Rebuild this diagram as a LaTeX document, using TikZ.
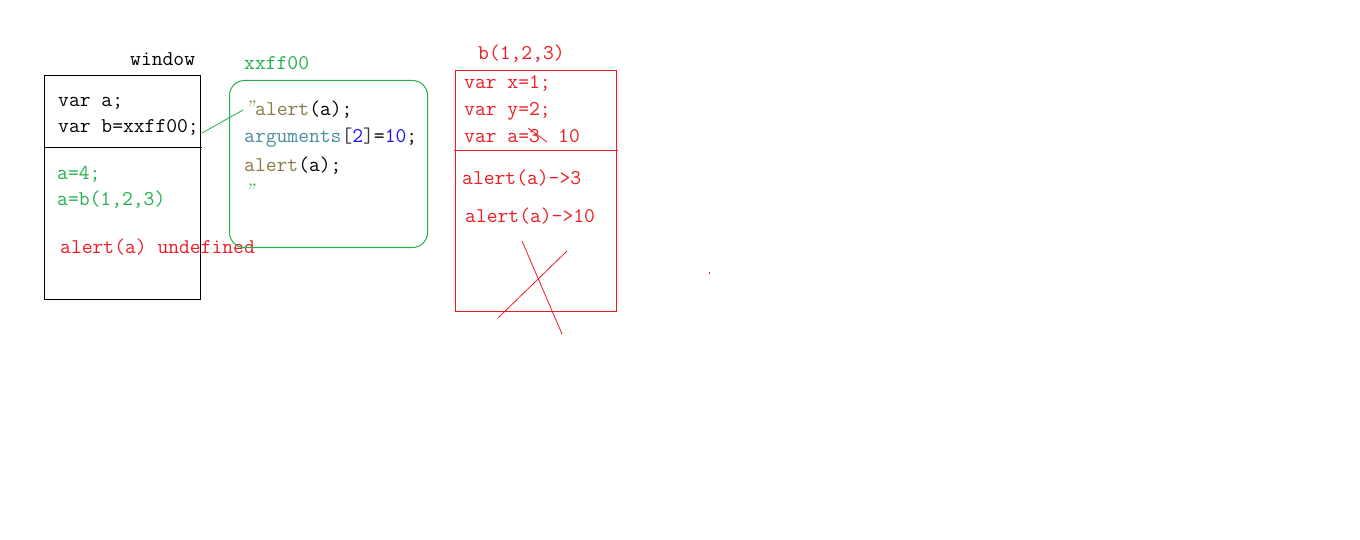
\documentclass[tikz,border=0pt]{standalone}
\usepackage{fontspec}
\definecolor{pgreen}{RGB}{34,177,76}
\definecolor{pred}{RGB}{237,28,36}
\definecolor{olive}{RGB}{140,122,70}
\definecolor{steel}{RGB}{72,140,160}
\definecolor{pblue}{RGB}{20,20,255}
\definecolor{dgray}{RGB}{50,60,70}
\newcommand{\slq}{\makebox[11pt][l]{\rmfamily\itshape ”}}
\tikzset{
  txt/.style={anchor=base west,inner sep=0pt,font=\ttfamily\fontsize{21}{26}\selectfont},
  thin/.style={line width=1pt},
}
\begin{document}
\begin{tikzpicture}[x=1pt,y=-1pt]
\useasboundingbox[fill=white] (0,0) rectangle (1360,540);
% window box
\draw[thin] (44.5,75.5) rectangle (200.5,299.5);
\draw[thin] (44,147.5) -- (202,147.5);
\node[txt] (wlabel) at (130,66) {window};
\node[txt] (va) at (58,107) {var a;};
\node[txt] (vb) at (58,133) {var b=xxff00;};
\node[txt,text=pgreen] (a4) at (57,180) {a=4;};
\node[txt,text=pgreen] (ab) at (57,206) {a=b(1,2,3)};
\node[txt,text=pred] (und) at (60,253) {alert(a) undefined};
% green function object
\draw[thin,pgreen,rounded corners=15pt] (229.5,80.5) rectangle (427.5,247.5);
\node[txt,text=pgreen] (xx) at (244,70) {xxff00};
\node[txt] (g1) at (244,115.5) {\textcolor{olive}{\slq alert}(a);};
\node[txt] (g2) at (244,143) {\textcolor{steel}{arguments}\textcolor{dgray}{[}\textcolor{pblue}{2}\textcolor{dgray}{]}=\textcolor{pblue}{10};};
\node[txt] (g3) at (244,171.5) {\textcolor{olive}{alert}(a);};
\node[txt,text=pgreen] (g4) at (244,199) {\slq};
\coordinate (cs) at (202,133);
\coordinate (ce) at (243,110);
\draw[pgreen,line width=0.8pt] (cs) -- (ce);
% red call box
\draw[thin,pred] (455.5,70.5) rectangle (616.5,311.5);
\draw[thin,pred] (454,150.5) -- (618,150.5);
\node[txt,text=pred] (bl) at (478,60) {b(1,2,3)};
\node[txt,text=pred] (rx) at (464,89) {var x=1;};
\node[txt,text=pred] (ry) at (464,116) {var y=2;};
\node[txt,text=pred] (ra) at (464,143) {var a=3};
\node[txt,text=pred] (r10) at (558,143) {10};
\coordinate (s1) at (528,128);
\coordinate (s2) at (547,142);
\draw[pred,line width=0.8pt] (s1) -- (s2);
\node[txt,text=pred] (al3) at (462,185) {alert(a)->3};
\node[txt,text=pred] (al10) at (465,223) {alert(a)->10};
\coordinate (x1a) at (522,241);
\coordinate (x1b) at (562,334);
\coordinate (x2a) at (498,318);
\coordinate (x2b) at (567,251);
\draw[pred,line width=0.8pt] (x1a) -- (x1b);
\draw[pred,line width=0.8pt] (x2a) -- (x2b);
\fill[pred] (709,272) rectangle (710,274);
\end{tikzpicture}
\end{document}
